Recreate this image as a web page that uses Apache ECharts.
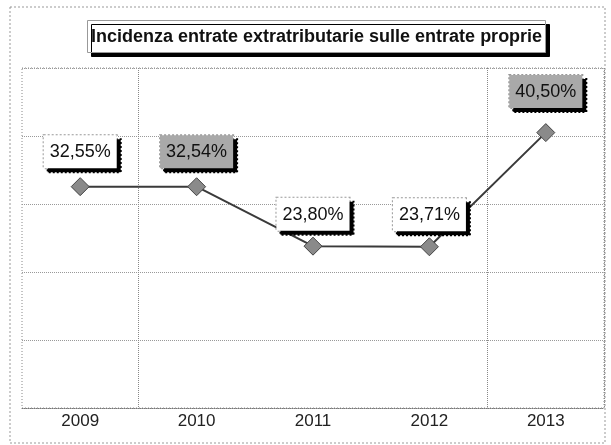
<!DOCTYPE html>
<html>
<head>
<meta charset="utf-8">
<script src="https://cdn.jsdelivr.net/npm/echarts@6/dist/echarts.min.js"></script>
<style>
  html, body { margin: 0; padding: 0; background: #fff; }
  #main-chart { width: 611px; height: 445px; }
</style>
</head>
<body>
<div id="main-chart"></div>
<script>
// dati del grafico
const anni = ['2009', '2010', '2011', '2012', '2013'];
const incidenza = [32.55, 32.54, 23.80, 23.71, 40.50];
const etichette = ['32,55%', '32,54%', '23,80%', '23,71%', '40,50%'];
// etichette con sfondo grigio (come nella scansione)
const sfondoGrigio = [false, true, false, false, true];
// spostamento verticale delle etichette
const spostamento = [0, 0, 3, 3, -6];

const myChart = echarts.init(document.getElementById('main-chart'));

const punti = incidenza.map((v, i) => ({
  value: v,
  label: {
    formatter: etichette[i],
    backgroundColor: sfondoGrigio[i] ? '#a9a9a9' : '#ffffff',
    offset: [0, spostamento[i]]
  }
}));

const option = {
  animation: false,
  title: {
    text: 'Incidenza entrate extratributarie sulle entrate proprie',
    left: 87,
    top: 20,
    padding: [8, 4, 7, 4],
    backgroundColor: '#fff',
    borderColor: '#999',
    borderWidth: 1,
    shadowColor: '#000',
    shadowOffsetX: 4,
    shadowOffsetY: 4,
    shadowBlur: 0,
    textStyle: {
      fontFamily: 'Liberation Sans, Arial, sans-serif',
      fontSize: 18,
      fontWeight: 'bold',
      color: '#111'
    }
  },
  grid: {
    left: 22,
    right: 7,
    top: 68,
    bottom: 37
  },
  xAxis: {
    type: 'category',
    data: anni,
    axisTick: { show: false },
    axisLine: { lineStyle: { color: '#777', type: 'dotted', width: 1 } },
    axisLabel: {
      color: '#222',
      fontSize: 17,
      fontFamily: 'Liberation Sans, Arial, sans-serif',
      margin: 5
    },
    splitLine: {
      show: true,
      interval: (idx) => idx === 1 || idx === 4,
      lineStyle: { color: '#888', type: 'dotted' }
    }
  },
  yAxis: {
    type: 'value',
    min: 0,
    max: 50,
    interval: 10,
    axisLabel: { show: false },
    axisTick: { show: false },
    axisLine: { show: false },
    splitLine: { lineStyle: { color: '#999', type: 'dotted' } }
  },
  graphic: [
    {
      type: 'rect',
      shape: { x: 10, y: 7, width: 595, height: 436 },
      style: { fill: 'none', stroke: '#999', lineDash: [2, 2], lineWidth: 1 },
      silent: true
    },
    {
      type: 'rect',
      shape: { x: 22, y: 68, width: 582, height: 340 },
      style: { fill: 'none', stroke: '#888', lineDash: [1, 2], lineWidth: 1 },
      silent: true
    }
  ],
  series: [
    {
      type: 'line',
      data: punti,
      symbol: 'diamond',
      symbolSize: 18,
      lineStyle: { color: '#3a3a3a', width: 2 },
      itemStyle: { color: '#8a8a8a', borderColor: '#444', borderWidth: 1 },
      label: {
        show: true,
        position: 'top',
        distance: 9,
        color: '#111',
        fontSize: 18,
        fontFamily: 'Liberation Sans, Arial, sans-serif',
        padding: [8, 6, 7, 6],
        borderColor: '#999',
        borderWidth: 1,
        borderType: 'dotted',
        shadowColor: '#000',
        shadowOffsetX: 4,
        shadowOffsetY: 4,
        shadowBlur: 0
      }
    }
  ]
};

myChart.setOption(option);

window.addEventListener('resize', function () {
  myChart.resize();
});
</script>
</body>
</html>
